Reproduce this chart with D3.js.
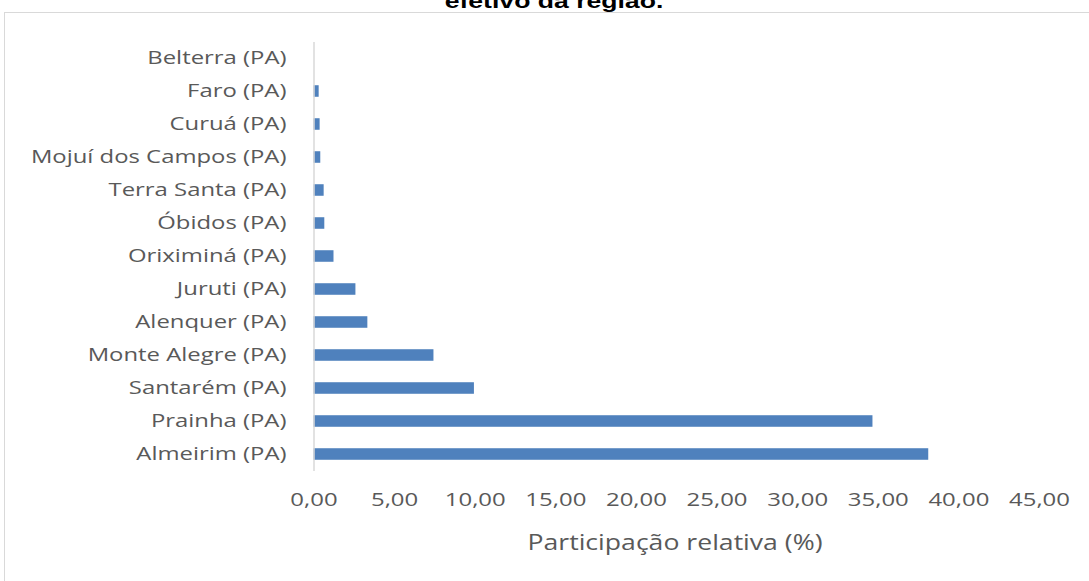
<!DOCTYPE html>
<html>
<head>
<meta charset="utf-8">
<script src="https://cdn.jsdelivr.net/npm/d3@7"></script>
<style>
  body { margin: 0; background: #fff; }
  svg { display: block; }
</style>
</head>
<body>
<svg></svg>
<script>
// municipios, de cima para baixo
const municipios = [
    "Belterra (PA)",
    "Faro (PA)",
    "Curuá (PA)",
    "Mojuí dos Campos (PA)",
    "Terra Santa (PA)",
    "Óbidos (PA)",
    "Oriximiná (PA)",
    "Juruti (PA)",
    "Alenquer (PA)",
    "Monte Alegre (PA)",
    "Santarém (PA)",
    "Prainha (PA)",
    "Almeirim (PA)"]

const participacao = [0.00, 0.32, 0.38, 0.42, 0.63, 0.67, 1.24, 2.60, 3.34, 7.44, 9.95, 34.67, 38.13]

const xTicks = [0, 5, 10, 15, 20, 25, 30, 35, 40, 45]

const titulo = "efetivo da região."
const xTitulo = "Participação relativa (%)"

let width = 1089, height = 581
const stretch = 1.29 // a imagem original esta esticada na horizontal

let svg = d3.select("svg")
    .attr("width", width)
    .attr("height", height)

const ptBR = d3.formatLocale({decimal: ",", thousands: ".", grouping: [3], currency: ["R$", ""]})
const fmt = ptBR.format(".2f")

// moldura do grafico
svg.append("rect")
    .attr("x", 4.5)
    .attr("y", 12.5)
    .attr("width", 1100)
    .attr("height", 600)
    .attr("fill", "none")
    .attr("stroke", "#d9d9d9")

// titulo cortado no topo
svg.append("text")
    .attr("transform", "translate(554,8) scale(1.33,1)")
    .attr("text-anchor", "middle")
    .style("font-family", "Liberation Sans, Arial, sans-serif")
    .style("font-weight", "bold")
    .style("font-size", "20px")
    .text(titulo)

let xScale = d3.scaleLinear()
    .domain([0, 45])
    .range([313.5, 1039])

let yScale = d3.scaleBand()
    .domain(municipios)
    .range([41.5, 470.5])
    .paddingInner(0.65)
    .paddingOuter(0.325)

svg.append("g")
    .attr("fill", "#4f81bd")
    .selectAll("rect")
    .data(municipios)
    .enter().append("rect")
        .attr("x", xScale(0))
        .attr("y", d => yScale(d))
        .attr("height", yScale.bandwidth())
        .attr("width", (d, i) => xScale(participacao[i]) - xScale(0))

// eixo das categorias
const yAxis = svg.append("g")
    .attr("transform", "translate(" + xScale(0) + ",0)")
    .call(d3.axisLeft(yScale).tickSize(0).tickPadding(0))
yAxis.select(".domain").attr("stroke", "#d9d9d9").attr("stroke-width", 1.5)
yAxis.selectAll("text")
    .attr("x", 0)
    .attr("transform", "translate(-27,0) scale(" + stretch + ",1)")
    .attr("fill", "#595959")
    .style("font-family", "Open Sans, sans-serif")
    .style("font-size", "18.5px")

// eixo dos valores (sem linha)
const xAxis = svg.append("g")
    .attr("transform", "translate(0,490)")
    .call(d3.axisBottom(xScale).tickValues(xTicks).tickFormat(fmt).tickSize(0))
xAxis.select(".domain").remove()
xAxis.selectAll("text")
    .attr("transform", "scale(1.26,1)")
    .attr("fill", "#595959")
    .style("font-family", "Open Sans, sans-serif")
    .style("font-size", "19px")

svg.append("text")
    .attr("transform", "translate(675,550) scale(1.21,1)")
    .attr("text-anchor", "middle")
    .attr("fill", "#595959")
    .style("font-family", "Open Sans, sans-serif")
    .style("font-size", "22px")
    .text(xTitulo)
</script>
</body>
</html>
